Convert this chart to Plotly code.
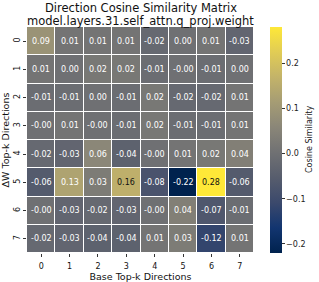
import plotly.graph_objects as go

base_labels = ["0", "1", "2", "3", "4", "5", "6", "7"]
dw_labels = ["0", "1", "2", "3", "4", "5", "6", "7"]

row0 = [0.09, 0.01, 0.01, 0.01, -0.02, 0.00, 0.01, -0.03]
row1 = [0.01, 0.00, 0.02, 0.02, -0.01, -0.001, -0.01, 0.00]
row2 = [-0.01, -0.01, 0.00, -0.01, 0.02, -0.02, -0.02, 0.01]
row3 = [-0.001, 0.01, -0.001, -0.01, 0.02, -0.01, -0.01, 0.01]
row4 = [-0.02, -0.03, 0.06, -0.04, -0.001, 0.01, 0.02, 0.04]
row5 = [-0.06, 0.13, 0.03, 0.16, -0.08, -0.22, 0.28, -0.06]
row6 = [-0.001, -0.03, -0.02, -0.03, -0.001, 0.04, -0.07, -0.01]
row7 = [-0.02, -0.03, -0.04, -0.04, 0.01, 0.03, -0.12, 0.01]
z = [row0, row1, row2, row3, row4, row5, row6, row7]

cbar_ticks = [-0.2, -0.1, 0.0, 0.1, 0.2]
cbar_text = ["\u22120.2", "\u22120.1", "0.0", "0.1", "0.2"]
cbar_title = "Cosine Similarity"

title_line1 = "Direction Cosine Similarity Matrix"
title_line2 = "model.layers.31.self_attn.q_proj.weight"

FONT = "DejaVu Sans"
zmin = min(min(r) for r in z)
zmax = max(max(r) for r in z)

fig = go.Figure()
fig.add_trace(go.Heatmap(
    z=z, x=base_labels, y=dw_labels,
    colorscale="cividis", zmin=zmin, zmax=zmax,
    xgap=1, ygap=1,
    colorbar=dict(
        x=1.0705, xanchor="left", xref="paper",
        y=0, yanchor="bottom", len=1, lenmode="fraction",
        thickness=12, outlinewidth=0, xpad=0, ypad=0,
        tickvals=cbar_ticks, ticktext=cbar_text,
        ticks="outside", ticklen=3, tickcolor="#333",
        tickfont=dict(family=FONT, size=8, color="#222"),
    ),
    hoverinfo="skip",
))

for i, row in enumerate(z):
    for j, v in enumerate(row):
        fig.add_annotation(
            x=base_labels[j], y=dw_labels[i], text=f"{v:.2f}",
            showarrow=False,
            font=dict(family=FONT, size=8,
                      color="#111" if v > 0.14 else "white"),
        )

for txt, ypix in [(title_line1, 8), (title_line2, 21)]:
    fig.add_annotation(
        text=txt, xref="paper", x=0.5, yref="paper",
        y=(253 - ypix) / 226, yanchor="middle",
        showarrow=False,
        font=dict(family=FONT, size=11.5, color="#111"),
    )

fig.add_annotation(
    text=cbar_title, textangle=-90, xref="paper", x=(309 - 27) / 227,
    yref="paper", y=0.5, xanchor="center", yanchor="middle",
    showarrow=False, font=dict(family=FONT, size=8, color="#222"),
)

fig.update_layout(
    width=319, height=282,
    margin=dict(l=27, r=65, t=27, b=29, autoexpand=False),
    paper_bgcolor="white", plot_bgcolor="white",
    xaxis=dict(
        title=dict(text="Base Top-k Directions", standoff=4,
                   font=dict(family=FONT, size=9.5, color="#111")),
        tickfont=dict(family=FONT, size=8, color="#111"),
        ticks="outside", ticklen=3, tickcolor="#333", ticklabelstandoff=2,
        showgrid=False, zeroline=False, automargin=False,
    ),
    yaxis=dict(
        title=dict(text="\u0394W Top-k Directions", standoff=4,
                   font=dict(family=FONT, size=9.5, color="#111")),
        tickfont=dict(family=FONT, size=8, color="#111"),
        ticks="outside", ticklen=3, tickcolor="#333", tickangle=-90,
        autorange="reversed", showgrid=False, zeroline=False,
        automargin=False,
    ),
)

fig.write_html("out.html", config={"displayModeBar": False},
               post_script="document.body.style.margin='0';")
